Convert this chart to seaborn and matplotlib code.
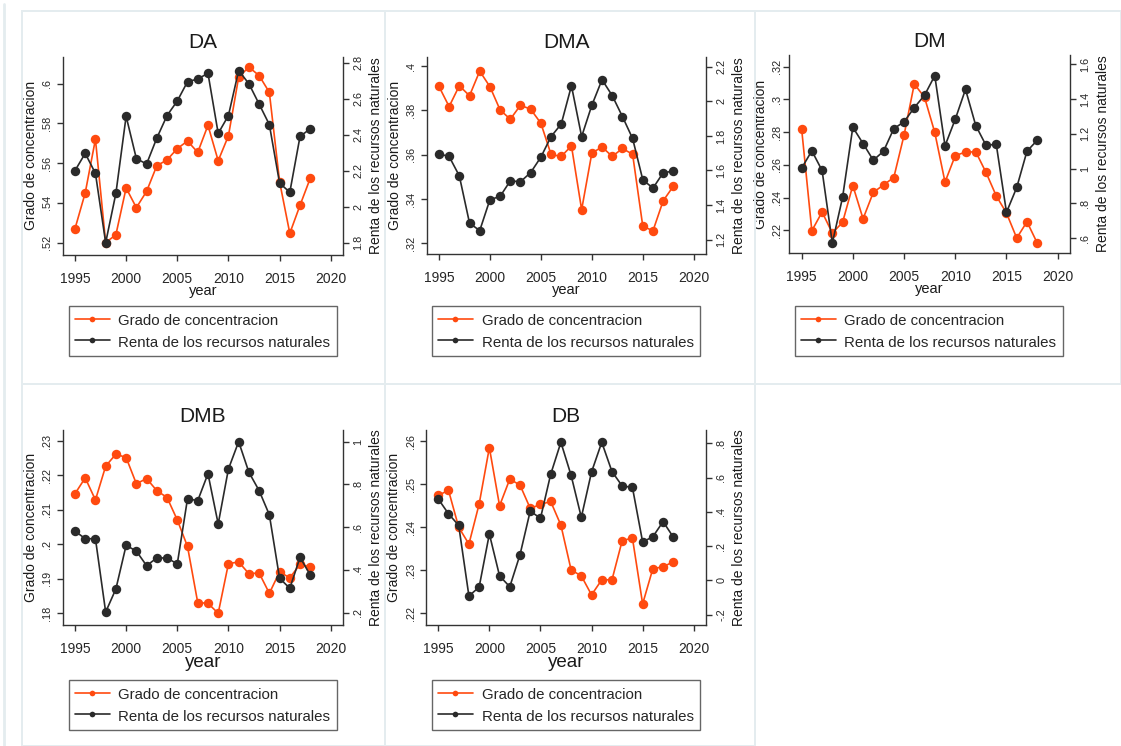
import numpy as np
import pandas as pd
import matplotlib
matplotlib.use("Agg")
import matplotlib.pyplot as plt
import seaborn as sns
from matplotlib.ticker import FuncFormatter, FixedLocator
from matplotlib.patches import Rectangle
from matplotlib.lines import Line2D

# ---------------- data ----------------
years = list(range(1995, 2019))

da_grado = [.527, .545, .572, .520, .524, .5475, .5376, .5458, .5587, .5616, .5673, .5711,
            .5654, .579, .5612, .5737, .6032, .6083, .604, .5956, .5507, .5247, .5388, .5524]
da_renta = [2.20, 2.296, 2.185, 1.80, 2.074, 2.502, 2.267, 2.237, 2.381, 2.506, 2.587, 2.694,
            2.709, 2.741, 2.407, 2.506, 2.756, 2.683, 2.57, 2.456, 2.131, 2.08, 2.39, 2.433]

dma_grado = [.3908, .3817, .3911, .3866, .3977, .3907, .3802, .376, .3823, .3805, .3742, .3601,
             .3592, .364, .3352, .3607, .3635, .3592, .3628, .3602, .3277, .3257, .3392, .3458]
dma_renta = [1.696, 1.681, 1.569, 1.296, 1.252, 1.431, 1.45, 1.54, 1.535, 1.588, 1.677, 1.796,
             1.869, 2.09, 1.796, 1.977, 2.125, 2.033, 1.912, 1.785, 1.546, 1.498, 1.587, 1.596]

dm_grado = [.2822, .2198, .2312, .2184, .2249, .2474, .2271, .2432, .2478, .2523, .2781, .3094,
            .3013, .2798, .2495, .2657, .2678, .268, .2554, .2411, .2306, .2153, .2253, .2123]
dm_renta = [1.002, 1.102, .989, .571, .834, 1.238, 1.144, 1.048, 1.10, 1.23, 1.269, 1.351,
            1.422, 1.535, 1.131, 1.284, 1.456, 1.248, 1.134, 1.14, .748, .891, 1.10, 1.163]

dmb_grado = [.2147, .2193, .2129, .2227, .2262, .2252, .2176, .2191, .2156, .2136, .2071, .1994,
             .1831, .1829, .1800, .1944, .1949, .1915, .1917, .1858, .1920, .1903, .1942, .1935]
dmb_renta = [.582, .546, .546, .203, .311, .515, .488, .42, .456, .456, .428, .733,
             .724, .85, .615, .872, 1.0, .857, .771, .658, .361, .314, .459, .376]

db_grado = [.2474, .2486, .2400, .2361, .2454, .2585, .2450, .2512, .2498, .2444, .2453, .2460,
            .2405, .2301, .2287, .2243, .2278, .2278, .2369, .2375, .2222, .2304, .2308, .2320]
db_renta = [.475, .389, .321, -.091, -.039, .271, .026, -.037, .15, .405, .362, .619,
            .806, .613, .368, .633, .806, .635, .551, .543, .224, .255, .343, .253]

titles = ["DA", "DMA", "DM", "DMB", "DB"]
x_ticks = [1995, 2000, 2005, 2010, 2015, 2020]
left_ticks = [
    [.52, .54, .56, .58, .60],
    [.32, .34, .36, .38, .40],
    [.22, .24, .26, .28, .30, .32],
    [.18, .19, .20, .21, .22, .23],
    [.22, .23, .24, .25, .26],
]
right_ticks = [
    [1.8, 2.0, 2.2, 2.4, 2.6, 2.8],
    [1.2, 1.4, 1.6, 1.8, 2.0, 2.2],
    [.6, .8, 1.0, 1.2, 1.4, 1.6],
    [.2, .4, .6, .8, 1.0],
    [-.2, 0, .2, .4, .6, .8],
]
series_grado = [da_grado, dma_grado, dm_grado, dmb_grado, db_grado]
series_renta = [da_renta, dma_renta, dm_renta, dmb_renta, db_renta]
lab_grado = "Grado de concentracion"
lab_renta = "Renta de los recursos naturales"

# ---------------- layout ----------------
W, H = 1121, 746
# plot area in pixels: (left, top, right, bottom)
boxes = [
    (62.7, 56.7, 343, 255),
    (426.7, 56.7, 706, 254),
    (789.3, 55, 1070, 253),
    (62.7, 430, 343, 625),
    (426.0, 430, 706, 625),
]
ylims_left = [(.5138, .6135), (.3152, .4042), (.2062, .3271), (.1766, .2332), (.2173, .2626)]
ylims_right = [(1.7315, 2.833), (1.117, 2.258), (.5138, 1.654), (.1423, 1.0546), (-.2603, .8778)]
legend_pos = [(69, 306), (432, 306), (795, 306), (69, 680), (432, 680)]
xlabel_size = [10.5, 10.5, 10.5, 13.5, 13.5]
left_pad = [3, 3, 0.5, 3, 3]

ORANGE = "#ff4a0f"
BLACK = "#2a2a2a"
AXC = "#333333"

sns.set_style("white")
plt.rcParams["font.family"] = ["Liberation Sans", "DejaVu Sans"]


def stata_fmt(v, pos=None):
    s = f"{v:.2f}".rstrip("0").rstrip(".")
    if s in ("-0", ""):
        s = "0"
    if s.startswith("0."):
        s = s[1:]
    elif s.startswith("-0."):
        s = "-" + s[2:]
    return s


fig = plt.figure(figsize=(W / 100, H / 100), dpi=100)
fig.patch.set_facecolor("white")

# faint panel frames
frame_c = "#e4ecef"
for (x0, y0, x1, y1) in [(22, 11, 385, 384), (385, 11, 755, 384), (755, 11, 1121, 384),
                         (22, 384, 385, 746), (385, 384, 755, 746)]:
    fig.add_artist(Rectangle((x0 / W, 1 - y1 / H), (x1 - x0) / W, (y1 - y0) / H,
                             transform=fig.transFigure, fill=False, edgecolor=frame_c, lw=1.4))
fig.add_artist(Line2D([4 / W, 4 / W], [0, 1 - 4 / H], transform=fig.transFigure,
                      color=frame_c, lw=2))

for i in range(5):
    l, t, r, b = boxes[i]
    ax = fig.add_axes([l / W, 1 - b / H, (r - l) / W, (b - t) / H])
    ax2 = ax.twinx()
    df = pd.DataFrame({"year": years, "grado": series_grado[i], "renta": series_renta[i]})
    sns.lineplot(data=df, x="year", y="grado", ax=ax, color=ORANGE, marker="o",
                 markersize=6.8, markeredgecolor=ORANGE, markeredgewidth=0, lw=1.2,
                 label=lab_grado, legend=False)
    sns.lineplot(data=df, x="year", y="renta", ax=ax2, color=BLACK, marker="o",
                 markersize=6.8, markeredgecolor=BLACK, markeredgewidth=0, lw=1.2,
                 label=lab_renta, legend=False)

    ax.set_xlim(1993.8, 2021.2)
    ax.set_ylim(*ylims_left[i])
    ax2.set_ylim(*ylims_right[i])
    ax.xaxis.set_major_locator(FixedLocator(x_ticks))
    ax.yaxis.set_major_locator(FixedLocator(left_ticks[i]))
    ax2.yaxis.set_major_locator(FixedLocator(right_ticks[i]))
    ax.yaxis.set_major_formatter(FuncFormatter(stata_fmt))
    ax2.yaxis.set_major_formatter(FuncFormatter(stata_fmt))

    for a in (ax, ax2):
        a.set_facecolor("none")
        a.grid(False)
        a.spines["top"].set_visible(False)
        for sp in ("left", "right", "bottom"):
            a.spines[sp].set_color(AXC)
            a.spines[sp].set_linewidth(1.0)
    ax.spines["right"].set_visible(False)
    ax2.spines["left"].set_visible(False)
    ax2.spines["bottom"].set_visible(False)

    ax.tick_params(axis="x", direction="out", length=4.5, width=1, color=AXC,
                   labelsize=10, pad=7.5, bottom=True)
    ax.tick_params(axis="y", direction="out", length=4.5, width=1, color=AXC,
                   labelsize=7.8, pad=left_pad[i], labelrotation=90, left=True)
    ax2.tick_params(axis="y", direction="out", length=4.5, width=1, color=AXC,
                    labelsize=7.8, pad=3, labelrotation=90, right=True)
    for lab in ax.get_yticklabels() + ax2.get_yticklabels():
        lab.set_va("center")

    ax.set_title(titles[i], fontsize=15, pad=6, color="#1a1a1a")
    ax.set_xlabel("year", fontsize=xlabel_size[i], labelpad=-1.5, color="#1a1a1a")
    ax.set_ylabel(lab_grado, fontsize=10, labelpad=3, color="#1a1a1a")
    ax2.set_ylabel(lab_renta, fontsize=10, labelpad=4, color="#1a1a1a")

    handles = [ax.lines[0], ax2.lines[0]]
    lx, ly = legend_pos[i]
    leg = fig.legend(handles, [lab_grado, lab_renta], loc="upper left",
                     bbox_to_anchor=(lx / W, 1 - ly / H), bbox_transform=fig.transFigure,
                     borderaxespad=0, frameon=True, fancybox=False, edgecolor="#666666",
                     framealpha=1, fontsize=10.8, handlelength=2.3, handletextpad=0.6,
                     handleheight=1.3, borderpad=0.4, labelspacing=0.35, markerscale=0.6)
    leg.get_frame().set_linewidth(1.0)

fig.savefig("out.png", dpi=100)
